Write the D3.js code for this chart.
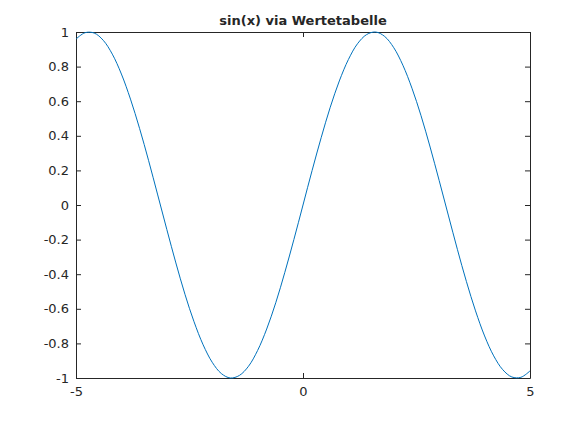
<!DOCTYPE html>
<html>
<head>
<meta charset="utf-8">
<script src="https://cdn.jsdelivr.net/npm/d3@7"></script>
<style>
  body { margin: 0; background: #fff; }
  text { font-family: "DejaVu Sans", sans-serif; fill: #262626; }
</style>
</head>
<body>
<div id="plot"></div>
<script>
// value table
var xVals = [-5, -4.8, -4.6, -4.4, -4.2, -4, -3.8, -3.6, -3.4, -3.2, -3, -2.8, -2.6, -2.4, -2.2, -2, -1.8, -1.6, -1.4, -1.2, -1, -0.8, -0.6, -0.4, -0.2,
             0, 0.2, 0.4, 0.6, 0.8, 1, 1.2, 1.4, 1.6, 1.8, 2, 2.2, 2.4, 2.6, 2.8, 3, 3.2, 3.4, 3.6, 3.8, 4, 4.2, 4.4, 4.6, 4.8, 5];
var yVals = [0.959, 0.996, 0.994, 0.952, 0.872, 0.757, 0.612, 0.443, 0.256, 0.058, -0.141, -0.335, -0.516, -0.675, -0.808, -0.909, -0.974, -1.000, -0.985, -0.932, -0.841, -0.717, -0.565, -0.389, -0.199,
             0, 0.199, 0.389, 0.565, 0.717, 0.841, 0.932, 0.985, 1.000, 0.974, 0.909, 0.808, 0.675, 0.516, 0.335, 0.141, -0.058, -0.256, -0.443, -0.612, -0.757, -0.872, -0.952, -0.994, -0.996, -0.959];
var xTicks = [-5, 0, 5];
var yTicks = [-1, -0.8, -0.6, -0.4, -0.2, 0, 0.2, 0.4, 0.6, 0.8, 1];
var title = "sin(x) via Wertetabelle";

var margin = {top: 32, right: 57, bottom: 48, left: 76},
    width = 587 - margin.left - margin.right,
    height = 426 - margin.top - margin.bottom;

var svg = d3.select("div#plot")
  .append("svg")
    .attr("width", 587)
    .attr("height", 426)
  .append("g")
    .attr("transform", "translate(" + margin.left + "," + margin.top + ")");

var x = d3.scaleLinear().domain([-5, 5]).range([0, width]);
var y = d3.scaleLinear().domain([-1, 1]).range([height, 0]);

// plain hyphen for negatives, like the original
var fmt = d => String(+d.toFixed(1));

// box axes, ticks pointing inward
function styleAxis(g) {
  g.selectAll("path").attr("stroke", "#262626");
  g.selectAll("line").attr("stroke", "#262626");
  g.selectAll("text").style("font-size", "13px");
}

svg.append("g")
  .attr("transform", "translate(0," + height + ")")
  .call(d3.axisBottom(x).tickValues(xTicks).tickSizeInner(-5).tickSizeOuter(0).tickPadding(9).tickFormat(fmt))
  .call(styleAxis);
svg.append("g")
  .call(d3.axisTop(x).tickValues(xTicks).tickSizeInner(-5).tickSizeOuter(0).tickFormat(""))
  .call(styleAxis);
svg.append("g")
  .call(d3.axisLeft(y).tickValues(yTicks).tickSizeInner(-5).tickSizeOuter(0).tickPadding(7).tickFormat(fmt))
  .call(styleAxis);
svg.append("g")
  .attr("transform", "translate(" + width + ",0)")
  .call(d3.axisRight(y).tickValues(yTicks).tickSizeInner(-5).tickSizeOuter(0).tickFormat(""))
  .call(styleAxis);

var data = xVals.map((v, i) => ({x: v, y: yVals[i]}));

svg.append("path")
  .datum(data)
  .attr("fill", "none")
  .attr("stroke", "#0072BD")
  .attr("stroke-width", 1)
  .attr("d", d3.line().x(d => x(d.x)).y(d => y(d.y)).curve(d3.curveCatmullRom.alpha(0.5)));

svg.append("text")
  .attr("x", width / 2)
  .attr("y", -7)
  .attr("text-anchor", "middle")
  .style("font-size", "13px")
  .style("font-weight", "bold")
  .text(title);
</script>
</body>
</html>
